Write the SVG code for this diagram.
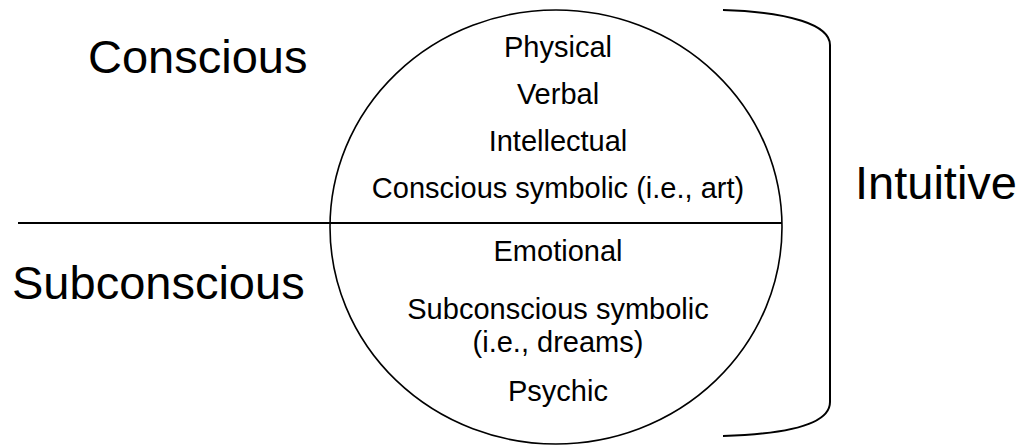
<svg xmlns="http://www.w3.org/2000/svg" width="1019" height="446" viewBox="0 0 1019 446">
<style>
.ln{fill:none;stroke:#000;stroke-width:2}
.thin{stroke-width:1.6}
.big{font-family:"Liberation Sans",Arial,sans-serif;font-size:47px;fill:#000}
.in{font-family:"Liberation Sans",Arial,sans-serif;font-size:29px;fill:#000;text-anchor:middle}
</style>
<rect width="1019" height="446" fill="#fff"/>
<g id="circle">
<ellipse class="ln thin" cx="556" cy="227" rx="226" ry="217"/>
</g>
<g id="connectors">
<line class="ln" x1="18" y1="223" x2="782" y2="223"/>
<path id="bracket" class="ln" d="M723,10 C790,12 830,25 830,45 L830,402 C830,424 790,434 723,436"/>
</g>
<g id="labels">
<text class="big" x="88" y="73">Conscious</text>
<text class="big" x="12" y="299">Subconscious</text>
<text class="big" x="855" y="199">Intuitive</text>
</g>
<g id="conscious-items">
<text class="in" x="558" y="57">Physical</text>
<text class="in" x="558" y="104">Verbal</text>
<text class="in" x="558" y="151">Intellectual</text>
<text class="in" x="558" y="198">Conscious symbolic (i.e., art)</text>
</g>
<g id="subconscious-items">
<text class="in" x="558" y="261">Emotional</text>
<text class="in" x="558" y="319">Subconscious symbolic</text>
<text class="in" x="558" y="352">(i.e., dreams)</text>
<text class="in" x="558" y="401">Psychic</text>
</g>
</svg>
